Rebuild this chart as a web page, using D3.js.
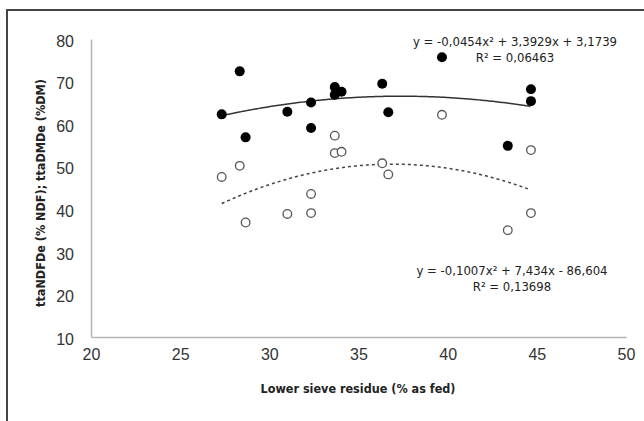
<!DOCTYPE html>
<html>
<head>
<meta charset="utf-8">
<script src="https://cdn.jsdelivr.net/npm/d3@7"></script>
<style>
  body { margin: 0; background: #fff; }
  svg { display: block; font-family: "Liberation Sans Narrow", "DejaVu Sans Condensed", sans-serif; }
</style>
</head>
<body>
<svg id="canvas"></svg>
<script>
// residue (% as fed) for both series
const residue = [27.33, 28.34, 28.67, 31.01, 32.34, 32.34, 33.67, 33.67, 34.05, 36.33, 36.67, 39.68, 43.37, 44.67, 44.67];
// ttaDMDe (filled dots)
const dmde = [62.3, 72.4, 56.9, 62.9, 65.1, 59.1, 68.7, 66.9, 67.6, 69.5, 62.8, 75.7, 54.9, 68.2, 65.4];
// ttaNDFDe (open dots)
const ndfde = [47.6, 50.2, 36.9, 38.9, 43.6, 39.1, 57.3, 53.2, 53.5, 50.8, 48.2, 62.2, 35.1, 53.9, 39.1];

// quadratic trendlines [a, b, c] : a*x^2 + b*x + c
const dmdeFit = [-0.0454, 3.3929, 3.1739];
const ndfdeFit = [-0.1007, 7.434, -86.604];
const dmdeLabel = ["y = -0,0454x² + 3,3929x + 3,1739", "R² = 0,06463"];
const ndfdeLabel = ["y = -0,1007x² + 7,434x - 86,604", "R² = 0,13698"];

const xTicks = [20, 25, 30, 35, 40, 45, 50];
const yTicks = [10, 20, 30, 40, 50, 60, 70, 80];

const width = 644, height = 421;
const padL = 91, padR = 626, padT = 39, padB = 337;

const canvas = d3.select("#canvas").attr("width", width).attr("height", height);

// outer frame (runs off the right and bottom edges)
canvas.append("rect")
  .attr("x", 7).attr("y", 10)
  .attr("width", 700).attr("height", 500)
  .attr("fill", "none").attr("stroke", "#444").attr("stroke-width", 2);

const xScale = d3.scaleLinear().domain([20, 50]).range([padL, padR]);
const yScale = d3.scaleLinear().domain([10, 80]).range([padB, padT]);

const xAxis = d3.axisBottom(xScale).tickValues(xTicks).tickSize(0).tickPadding(12);
const yAxis = d3.axisLeft(yScale).tickValues(yTicks).tickSize(0).tickPadding(17);

const gx = canvas.append("g").attr("transform", `translate(0, ${padB})`).call(xAxis);
const gy = canvas.append("g").attr("transform", `translate(${padL}, 0)`).call(yAxis);

[gx, gy].forEach(g => {
  g.select(".domain").attr("stroke", "#b5b5b5").attr("stroke-width", 1.5);
  g.selectAll("text").attr("font-family", null).attr("font-size", 16).attr("fill", "#333");
});
gy.selectAll("text").attr("dy", "0.45em");

const quad = f => x => f[0] * x * x + f[1] * x + f[2];
const xExt = d3.extent(residue);
const xs = d3.range(xExt[0], xExt[1] + 0.001, 0.1);
const line = f => d3.line().x(d => xScale(d)).y(d => yScale(quad(f)(d)))(xs);

canvas.append("path").attr("d", line(dmdeFit))
  .attr("fill", "none").attr("stroke", "#333").attr("stroke-width", 1.5);
canvas.append("path").attr("d", line(ndfdeFit))
  .attr("fill", "none").attr("stroke", "#444").attr("stroke-width", 1.5)
  .attr("stroke-dasharray", "3,3");

canvas.append("g").selectAll("circle").data(residue).join("circle")
  .attr("cx", d => xScale(d)).attr("cy", (d, i) => yScale(ndfde[i]))
  .attr("r", 4.3).attr("fill", "#fff").attr("stroke", "#555").attr("stroke-width", 1.3);

canvas.append("g").selectAll("circle").data(residue).join("circle")
  .attr("cx", d => xScale(d)).attr("cy", (d, i) => yScale(dmde[i]))
  .attr("r", 5).attr("fill", "#000");

// equation labels
const eq = (lines, x, y) => {
  canvas.append("text").attr("x", x).attr("y", y).attr("text-anchor", "middle")
    .attr("font-size", 13).attr("fill", "#222")
    .selectAll("tspan").data(lines).join("tspan")
    .attr("x", x).attr("dy", (d, i) => i ? 16 : 0).text(d => d);
};
eq(dmdeLabel, 515, 46);
eq(ndfdeLabel, 512, 275);

canvas.append("text")
  .attr("x", 358).attr("y", 393).attr("text-anchor", "middle")
  .attr("font-size", 12.5).attr("font-weight", "bold").attr("fill", "#222")
  .text("Lower sieve residue (% as fed)");

canvas.append("text")
  .attr("transform", "translate(45, 193) rotate(-90)")
  .attr("text-anchor", "middle")
  .attr("font-size", 12.5).attr("font-weight", "bold").attr("fill", "#222")
  .text("ttaNDFDe (% NDF); ttaDMDe (%DM)");
</script>
</body>
</html>
